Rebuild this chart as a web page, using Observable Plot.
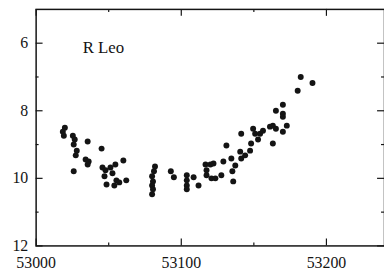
<!DOCTYPE html>
<html><head><meta charset="utf-8">
<script src="https://cdn.jsdelivr.net/npm/d3@7"></script>
<script src="https://cdn.jsdelivr.net/npm/@observablehq/plot@0.6"></script>
<style>
html,body{margin:0;padding:0;background:#fff;overflow:hidden}
#chart{width:384px;height:276px;overflow:hidden}
svg{display:block}
#chart svg, #chart svg text, #chart svg g{font-family:"Liberation Serif","Times New Roman","DejaVu Serif",serif !important}
</style>
</head><body><div id="chart"></div>
<script>
// Julian date (JD - 2400000) of each observation
const dates = [
  53019.8, 53018.4, 53019.1, 53025.3, 53026.6, 53025.9, 53035.5, 53028.0, 53027.3, 53025.9,
  53034.1, 53036.2, 53035.5, 53045.1, 53045.7, 53047.8, 53047.1, 53051.2, 53054.6, 53060.1,
  53052.6, 53055.3, 53057.3, 53053.9, 53048.5, 53062.1,
  53081.9, 53081.2, 53079.9, 53080.5, 53079.9, 53080.5, 53079.9,
  53092.8, 53094.9, 53103.8, 53103.8, 53103.8, 53103.8, 53108.5, 53111.9,
  53116.7, 53120.1, 53117.4, 53117.4, 53120.8, 53123.5, 53127.6, 53122.2, 53129.0,
  53131.1, 53134.5, 53137.2, 53135.2, 53135.8, 53140.6, 53141.3, 53144.0, 53147.4, 53148.1,
  53141.3, 53149.5, 53150.9, 53154.3, 53152.9, 53156.3, 53161.1, 53163.1, 53165.2, 53163.1,
  53165.2, 53170.0, 53170.0, 53170.0, 53172.7, 53170.0, 53180.2, 53182.3, 53190.4
];
// visual magnitude of each observation
const mags = [
  8.50, 8.62, 8.74, 8.74, 8.85, 9.00, 8.91, 9.18, 9.32, 9.79,
  9.44, 9.50, 9.59, 9.12, 9.68, 9.76, 9.94, 9.68, 9.59, 9.47,
  9.85, 10.06, 10.12, 10.21, 10.18, 10.06,
  9.65, 9.79, 9.94, 10.09, 10.21, 10.32, 10.47,
  9.79, 9.97, 9.91, 10.06, 10.21, 10.32, 9.97, 10.21,
  9.59, 9.59, 9.76, 9.91, 10.00, 10.00, 9.91, 9.56, 9.50,
  9.03, 9.41, 9.62, 9.79, 10.09, 9.21, 9.41, 9.32, 9.18, 8.97,
  8.68, 8.53, 8.68, 8.68, 8.85, 8.59, 8.47, 8.44, 8.53, 8.97,
  8.00, 7.82, 8.09, 8.18, 8.44, 8.62, 7.41, 7.00, 7.18
];
const xMajor = [53000, 53100, 53200];
const xMinor = [53050, 53150];
const yMajor = [6, 8, 10, 12];
const yMinor = [7, 9, 11];
const starName = ["R Leo"];

const obs = dates.map((d, i) => ({date: d, mag: mags[i]}));

const W = 388, H = 276, mT = 9, mB = 28, mL = 36, mR = 0;
const innerH = H - mT - mB, innerW = W - mL - mR;
const major = 7, minor = 3;
const ink = "#141414";
const serif = "'Liberation Serif', 'Times New Roman', 'DejaVu Serif', serif";

const chart = Plot.plot({
  width: W, height: H,
  marginTop: mT, marginBottom: mB, marginLeft: mL, marginRight: mR,
  style: {fontFamily: serif, fontSize: "16px", color: ink, background: "#fff"},
  x: {domain: [53000, 53240]},
  y: {domain: [5, 12], reverse: true},
  marks: [
    Plot.axisX(xMajor, {anchor: "bottom", tickSize: 0, tickPadding: 11, tickFormat: d => String(d), label: null, fontSize: 16, fontFamily: serif}),
    Plot.axisY(yMajor, {anchor: "left", tickSize: 0, tickPadding: 8, tickFormat: d => String(d), label: null, fontSize: 16, fontFamily: serif}),
    // inward ticks, bottom and top
    Plot.tickX(xMajor, {insetTop: innerH - major, stroke: ink, strokeWidth: 1.2}),
    Plot.tickX(xMinor, {insetTop: innerH - minor, stroke: ink, strokeWidth: 1.2}),
    Plot.tickX(xMajor, {insetBottom: innerH - major, stroke: ink, strokeWidth: 1.2}),
    Plot.tickX(xMinor, {insetBottom: innerH - minor, stroke: ink, strokeWidth: 1.2}),
    // inward ticks, left and right
    Plot.tickY(yMajor, {insetRight: innerW - major, stroke: ink, strokeWidth: 1.2}),
    Plot.tickY(yMinor, {insetRight: innerW - minor, stroke: ink, strokeWidth: 1.2}),
    Plot.tickY(yMajor, {insetLeft: innerW - major, stroke: ink, strokeWidth: 1.2}),
    Plot.tickY(yMinor, {insetLeft: innerW - minor, stroke: ink, strokeWidth: 1.2}),
    Plot.frame({stroke: ink, strokeWidth: 1.5}),
    Plot.text(starName, {frameAnchor: "top-left", textAnchor: "start", lineAnchor: "middle", dx: 47, dy: 39, fontSize: 17, fontFamily: serif, fill: ink}),
    Plot.dot(obs, {x: "date", y: "mag", r: 3, fill: ink, stroke: "none"})
  ]
});
document.getElementById("chart").appendChild(chart);
</script>
</body></html>
